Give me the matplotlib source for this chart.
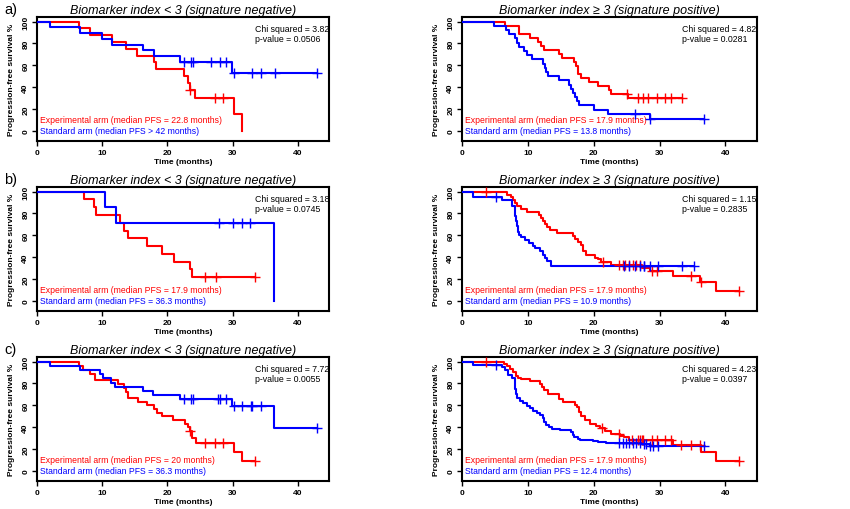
import numpy as np
import matplotlib
matplotlib.use('Agg')
import matplotlib.pyplot as plt

plt.rcParams['font.family'] = ['Liberation Sans', 'DejaVu Sans']

# ---- data (months, % progression-free) ----
# row a, signature negative
a_neg_exp_t = [0, 6.4, 8.2, 11.5, 13.7, 15.4, 17.9, 18.3, 22.6, 23.1, 23.4, 24.3, 30.2, 31.4]
a_neg_exp_s = [100, 93.8, 87.5, 81.3, 75.0, 68.8, 62.5, 56.3, 50.0, 43.8, 37.5, 30.0, 15.0, 0]
a_neg_exp_cens = [23.5, 27.3, 28.5]
a_neg_std_t = [0, 2.0, 6.6, 9.9, 11.5, 16.2, 17.9, 21.9, 29.9]
a_neg_std_s = [100, 94.7, 89.5, 84.2, 78.9, 73.7, 68.4, 63.2, 52.6]
a_neg_std_cens = [22.5, 23.7, 24.0, 26.7, 28.1, 29.0, 30.3, 33.0, 34.3, 36.5, 43.0]

# row a, signature positive
a_pos_exp_t = [0, 6.6, 8.6, 10.4, 11.6, 12.0, 12.5, 14.8, 15.2, 17.0, 17.3, 17.6, 18.0, 19.3, 20.6, 22.3, 22.7, 25.2]
a_pos_exp_s = [100, 96.3, 88.9, 85.2, 81.5, 77.8, 74.1, 70.4, 66.7, 63.0, 59.3, 51.9, 48.1, 44.4, 40.7, 37.0, 33.3, 29.6]
a_pos_exp_cens = [25.0, 26.8, 27.5, 28.3, 29.6, 30.8, 31.8, 33.4]
a_pos_std_t = [0, 4.9, 6.7, 7.1, 8.0, 8.3, 8.6, 9.4, 9.8, 10.6, 12.3, 12.6, 12.8, 13.1, 14.7, 16.3,
               16.6, 16.9, 17.1, 17.4, 17.8, 20.0, 22.1, 28.5]
a_pos_std_s = [100, 96.2, 92.3, 88.5, 84.6, 80.8, 76.9, 73.1, 69.2, 65.4, 61.5, 57.7, 53.8, 50.0, 46.2, 42.3,
               38.5, 34.6, 30.8, 26.9, 23.1, 19.2, 15.4, 10.3]
a_pos_std_cens = [26.3, 28.6, 36.8]

# row b, signature negative
b_neg_exp_t = [0, 7.2, 8.7, 9.0, 12.7, 13.4, 14.0, 16.8, 19.2, 21.0, 23.5, 23.8]
b_neg_exp_s = [100, 92.9, 85.7, 78.6, 71.4, 64.3, 57.1, 50.0, 42.9, 35.7, 28.6, 21.4]
b_neg_exp_cens = [25.8, 27.4, 33.5]
b_neg_std_t = [0, 10.5, 12.1, 36.4]
b_neg_std_s = [100, 85.7, 71.4, 0]
b_neg_std_cens = [27.9, 30.1, 31.4, 32.7]

# row b, signature positive
b_pos_exp_t = [0, 6.9, 7.4, 7.8, 8.0, 8.3, 9.0, 9.8, 11.7, 12.0, 12.3, 12.6, 12.9, 13.3, 14.5, 16.8, 17.2,
               17.6, 18.0, 18.3, 18.8, 20.2, 20.6, 21.1, 22.7, 27.4, 28.6, 32.0, 36.1, 38.5]
b_pos_exp_s = [100, 97.3, 94.6, 91.9, 89.2, 86.5, 83.8, 81.1, 78.4, 75.7, 73.0, 70.3, 67.6, 64.9, 62.2, 59.5, 56.8,
               54.1, 51.4, 45.9, 41.9, 39.2, 37.8, 35.1, 32.4, 29.8, 27.0, 22.5, 16.9, 8.4]
b_pos_exp_cens = [3.7, 21.4, 23.8, 24.4, 24.8, 25.4, 25.9, 26.5, 27.0, 28.8, 29.6, 34.8, 36.3, 42.0]
b_pos_std_t = [0, 1.7, 6.1, 7.6, 8.0, 8.1, 8.2, 8.3, 8.5, 8.6, 9.0, 9.5, 10.1, 10.8, 11.1, 11.9, 12.3, 12.6, 12.9, 13.5]
b_pos_std_s = [100, 95.2, 92.0, 87.0, 83.0, 78.0, 73.0, 68.0, 63.0, 60.5, 58.0, 55.5, 53.0, 50.5, 48.0, 45.5, 42.0,
               39.0, 36.0, 31.9]
b_pos_std_cens = [5.1, 24.6, 25.4, 26.3, 27.1, 27.6, 27.7, 28.6, 29.8, 33.4, 35.2]

# row c, signature negative
c_neg_exp_t = [0, 6.4, 7.0, 8.2, 8.9, 12.4, 13.3, 13.6, 14.0, 15.5, 16.8, 17.9, 18.4, 19.2, 20.9, 22.7, 23.1,
               23.4, 23.8, 24.4, 30.2, 31.4]
c_neg_exp_s = [100, 96.2, 92.4, 88.6, 83.5, 79.7, 75.9, 72.1, 66.7, 62.8, 60.0, 56.2, 53.0, 50.0, 46.2, 42.4, 39.6,
               36.0, 30.0, 25.8, 17.2, 8.6]
c_neg_exp_cens = [23.5, 25.8, 27.3, 28.5, 33.5]
c_neg_std_t = [0, 2.0, 6.6, 9.6, 10.1, 11.4, 11.9, 16.2, 17.8, 21.9, 29.9, 36.4]
c_neg_std_s = [100, 96.2, 92.3, 88.5, 84.6, 80.8, 76.9, 73.1, 69.2, 65.4, 59.0, 39.3]
c_neg_std_cens = [22.5, 23.7, 24.0, 27.8, 28.1, 29.0, 30.2, 31.4, 32.8, 33.0, 34.3, 43.0]

# row c, signature positive
c_pos_exp_t = [0, 6.4, 6.8, 7.3, 7.8, 8.2, 8.5, 8.9, 10.4, 11.8, 12.2, 12.4, 13.0, 14.7, 15.3, 17.1, 17.4, 17.7,
               18.1, 18.7, 19.4, 20.4, 20.9, 21.7, 22.7, 24.0, 24.6, 25.4, 32.0, 36.3, 38.5]
c_pos_exp_s = [100, 98.0, 96.0, 93.0, 90.0, 87.0, 85.0, 84.0, 82.6, 79.5, 77.0, 74.0, 70.0, 66.0, 63.0, 60.5, 58.0,
               53.5, 50.0, 46.0, 43.0, 41.0, 39.0, 36.0, 34.0, 32.0, 30.6, 28.4, 23.5, 17.4, 8.6]
c_pos_exp_cens = [3.7, 21.2, 23.8, 25.8, 26.7, 27.0, 27.3, 27.5, 28.8, 29.6, 30.9, 31.8, 33.2, 34.8, 36.1, 42.0]
c_pos_std_t = [0, 1.7, 6.0, 6.6, 7.0, 7.6, 8.0, 8.1, 8.2, 8.4, 8.8, 9.3, 9.8, 10.3, 10.8, 11.4, 11.9, 12.3, 12.5,
               12.8, 13.2, 13.7, 14.9, 16.5, 16.8, 17.0, 17.6, 17.9, 19.9, 20.6, 21.9, 27.6, 28.6]
c_pos_std_s = [100, 97.0, 95.0, 92.0, 88.0, 85.0, 80.0, 75.0, 70.0, 67.0, 64.0, 62.0, 59.0, 57.0, 55.0, 53.0, 51.0,
               48.0, 45.0, 42.0, 40.0, 38.0, 37.0, 35.0, 33.0, 31.0, 29.0, 28.0, 27.0, 26.0, 25.0, 24.0, 22.5]
c_pos_std_cens = [5.1, 23.8, 24.5, 24.9, 25.3, 25.9, 26.4, 27.1, 27.6, 27.9, 28.6, 29.0, 29.8, 36.8]

# follow-up end per curve (experimental, standard)
end_times = {
    'a_neg': (31.4, 43.0), 'a_pos': (33.4, 36.8),
    'b_neg': (33.5, 36.4), 'b_pos': (42.0, 35.2),
    'c_neg': (33.5, 43.0), 'c_pos': (42.0, 36.8),
}

chi_sq = ['3.82', '4.82', '3.18', '1.15', '7.72', '4.23']
p_vals = ['0.0506', '0.0281', '0.0745', '0.2835', '0.0055', '0.0397']
exp_medians = ['= 22.8', '= 17.9', '= 17.9', '= 17.9', '= 20', '= 17.9']
std_medians = ['> 42', '= 13.8', '= 36.3', '= 10.9', '= 36.3', '= 12.4']
titles = ['Biomarker index < 3 (signature negative)', 'Biomarker index \u2265 3 (signature positive)']
row_labels = ['a)', 'b)', 'c)']

RED = '#ff0000'
BLUE = '#0000ff'


def draw_curve(ax, t, s, end, cens, color):
    tt = list(t) + [end]
    ss = list(s) + [s[-1]]
    ax.step(tt, ss, where='post', color=color, lw=1.5, zorder=3)
    idx = np.searchsorted(np.array(t), cens, side='right') - 1
    cy = np.array(s)[idx]
    ax.plot(cens, cy, ls='none', marker='+', ms=6.5, mew=1.0, color=color, zorder=4)


def draw_panel(ax, k, key, exp, std, title):
    exp_end, std_end = end_times[key]
    draw_curve(ax, exp[0], exp[1], exp_end, exp[2], RED)
    draw_curve(ax, std[0], std[1], std_end, std[2], BLUE)

    ax.set_xlim(0, 44.8)
    ax.set_ylim(-9.5, 104.2)
    ax.set_xticks([0, 10, 20, 30, 40])
    ax.set_yticks([0, 20, 40, 60, 80, 100])
    ax.set_yticklabels(['0', '20', '40', '60', '80', '100'], rotation=90, va='center')
    ax.tick_params(axis='both', length=3.5, width=1, labelsize=6, pad=2, direction='out')
    for lab in ax.get_xticklabels() + ax.get_yticklabels():
        lab.set_fontweight('bold')
    for sp in ax.spines.values():
        sp.set_linewidth(1.5)

    ax.set_xlabel('Time (months)', fontsize=6, fontweight='bold', labelpad=2)
    ax.set_ylabel('Progression-free survival %', fontsize=6, fontweight='bold', labelpad=5)
    ax.set_title(title, fontsize=9, style='italic', pad=3)

    ax.text(33.4, 94, 'Chi squared = ' + chi_sq[k], fontsize=6.3, va='center', ha='left')
    ax.text(33.4, 84.5, 'p-value = ' + p_vals[k], fontsize=6.3, va='center', ha='left')
    ax.text(0.4, 10, 'Experimental arm (median PFS ' + exp_medians[k] + ' months)',
            fontsize=6.2, color=RED, va='center', ha='left')
    ax.text(0.4, 0, 'Standard arm (median PFS ' + std_medians[k] + ' months)',
            fontsize=6.2, color=BLUE, va='center', ha='left')


fig = plt.figure(figsize=(8.5, 5.1), dpi=100)

panels = [
    ('a_neg', (a_neg_exp_t, a_neg_exp_s, a_neg_exp_cens), (a_neg_std_t, a_neg_std_s, a_neg_std_cens)),
    ('a_pos', (a_pos_exp_t, a_pos_exp_s, a_pos_exp_cens), (a_pos_std_t, a_pos_std_s, a_pos_std_cens)),
    ('b_neg', (b_neg_exp_t, b_neg_exp_s, b_neg_exp_cens), (b_neg_std_t, b_neg_std_s, b_neg_std_cens)),
    ('b_pos', (b_pos_exp_t, b_pos_exp_s, b_pos_exp_cens), (b_pos_std_t, b_pos_std_s, b_pos_std_cens)),
    ('c_neg', (c_neg_exp_t, c_neg_exp_s, c_neg_exp_cens), (c_neg_std_t, c_neg_std_s, c_neg_std_cens)),
    ('c_pos', (c_pos_exp_t, c_pos_exp_s, c_pos_exp_cens), (c_pos_std_t, c_pos_std_s, c_pos_std_cens)),
]

col_left = [37 / 850, 462 / 850]
col_width = [292 / 850, 295 / 850]
row_bottom = [1 - 142 / 510, 1 - 312 / 510, 1 - 482 / 510]
row_height = 124 / 510

for k, (key, exp, std) in enumerate(panels):
    r, c = divmod(k, 2)
    ax = fig.add_axes([col_left[c], row_bottom[r], col_width[c], row_height])
    draw_panel(ax, k, key, exp, std, titles[c])

for r, lab in enumerate(row_labels):
    fig.text(4 / 850, 1 - (10 + 170 * r) / 510, lab, fontsize=10.5, va='center', ha='left')

fig.savefig('out.png', dpi=100)
